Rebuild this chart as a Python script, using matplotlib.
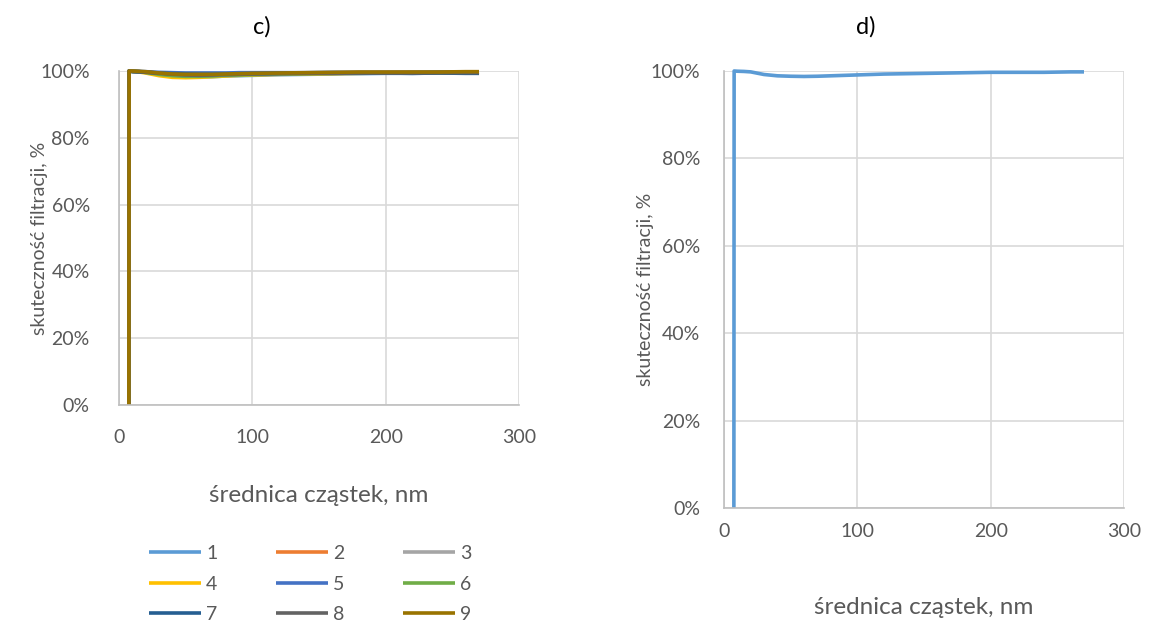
import matplotlib
matplotlib.use("Agg")
import matplotlib.pyplot as plt
from matplotlib.ticker import PercentFormatter

plt.rcParams['font.family'] = ['Lato', 'DejaVu Sans']

# particle diameter, nm
diam = [7.4, 7.6, 10, 15, 20, 25, 30, 40, 50, 60, 70, 80, 90, 100,
        120, 140, 160, 180, 200, 220, 240, 260, 270]

# chart c) - filtration efficiency of nine samples (fraction)
eff_c = {
    "1": [0, 1.0, 0.999, 0.998, 0.996, 0.993, 0.990, 0.986, 0.983, 0.982, 0.983, 0.985, 0.986,
          0.987, 0.989, 0.990, 0.991, 0.992, 0.993, 0.993, 0.994, 0.994, 0.995],
    "2": [0, 1.0, 0.999, 0.998, 0.997, 0.995, 0.993, 0.990, 0.988, 0.987, 0.988, 0.989, 0.990,
          0.991, 0.992, 0.993, 0.994, 0.995, 0.995, 0.996, 0.996, 0.996, 0.997],
    "3": [0, 1.0, 0.999, 0.998, 0.996, 0.994, 0.992, 0.988, 0.986, 0.985, 0.986, 0.987, 0.988,
          0.989, 0.991, 0.992, 0.993, 0.994, 0.995, 0.995, 0.995, 0.996, 0.996],
    "4": [0, 1.0, 0.999, 0.997, 0.994, 0.990, 0.986, 0.981, 0.980, 0.981, 0.983, 0.985, 0.987,
          0.988, 0.990, 0.991, 0.992, 0.993, 0.994, 0.994, 0.995, 0.995, 0.996],
    "5": [0, 1.0, 1.0, 0.999, 0.998, 0.997, 0.996, 0.995, 0.994, 0.994, 0.994, 0.994, 0.995,
          0.995, 0.995, 0.995, 0.996, 0.996, 0.996, 0.996, 0.997, 0.996, 0.996],
    "6": [0, 1.0, 0.999, 0.998, 0.996, 0.993, 0.990, 0.986, 0.984, 0.984, 0.985, 0.987, 0.988,
          0.989, 0.991, 0.992, 0.993, 0.994, 0.994, 0.995, 0.995, 0.995, 0.996],
    "7": [0, 1.0, 0.998, 0.997, 0.996, 0.995, 0.994, 0.992, 0.991, 0.990, 0.990, 0.991, 0.991,
          0.992, 0.993, 0.993, 0.994, 0.994, 0.994, 0.993, 0.994, 0.993, 0.993],
    "8": [0, 1.0, 0.999, 0.998, 0.997, 0.995, 0.993, 0.990, 0.988, 0.987, 0.988, 0.989, 0.990,
          0.991, 0.992, 0.993, 0.993, 0.994, 0.994, 0.994, 0.995, 0.995, 0.995],
    "9": [0, 1.0, 1.0, 0.999, 0.998, 0.996, 0.994, 0.991, 0.990, 0.990, 0.990, 0.991, 0.992,
          0.993, 0.994, 0.995, 0.996, 0.997, 0.997, 0.997, 0.997, 0.998, 0.998],
}
colors_c = ["#5B9BD5", "#ED7D31", "#A5A5A5", "#FFC000", "#4472C4",
            "#70AD47", "#255E91", "#636363", "#997300"]

# chart d) - single sample
eff_d = [0, 1.0, 0.9995, 0.999, 0.998, 0.995, 0.992, 0.989, 0.988, 0.9875, 0.988, 0.989, 0.990,
         0.991, 0.993, 0.994, 0.995, 0.996, 0.997, 0.997, 0.997, 0.998, 0.998]

TEXT = "#595959"
GRID = "#D9D9D9"
FS = 14
FS_X = 17.5


def style_axes(ax, xpad, ypad, xlab_y):
    ax.set_xlim(0, 300)
    ax.set_ylim(0, 1)
    ax.set_xticks([0, 100, 200, 300])
    ax.set_yticks([0, 0.2, 0.4, 0.6, 0.8, 1.0])
    ax.yaxis.set_major_formatter(PercentFormatter(1.0, decimals=0))
    ax.grid(True, color=GRID, linewidth=1.2)
    ax.set_axisbelow(True)
    for side in ("top", "right"):
        ax.spines[side].set_visible(False)
    for side in ("left", "bottom"):
        ax.spines[side].set_color("#BFBFBF")
        ax.spines[side].set_linewidth(1.2)
    ax.tick_params(length=0, colors=TEXT, labelsize=FS)
    ax.tick_params(axis="x", pad=xpad)
    ax.tick_params(axis="y", pad=ypad)
    ax.set_xlabel("średnica cząstek, nm", color=TEXT, fontsize=FS_X, va="center")
    ax.set_ylabel("skuteczność filtracji, %", color=TEXT, fontsize=FS, va="center")
    ax.xaxis.set_label_coords(0.5, xlab_y)
    ax.yaxis.set_label_coords(-0.1975, 0.5)


W, H = 1151, 622
fig = plt.figure(figsize=(W / 100, H / 100), dpi=100)

ax_c = fig.add_axes([119 / W, 1 - 405 / H, 400 / W, 334 / H])
lines = []
for (name, vals), col in zip(eff_c.items(), colors_c):
    ln, = ax_c.plot(diam, vals, color=col, linewidth=2.6, label=name,
                    solid_capstyle="butt", clip_on=False)
    lines.append(ln)
style_axes(ax_c, xpad=17, ypad=21, xlab_y=(405 - 496) / 334)

ax_d = fig.add_axes([724 / W, 1 - 508 / H, 400 / W, 437 / H])
ax_d.plot(diam, eff_d, color="#5B9BD5", linewidth=2.6, solid_capstyle="butt", clip_on=False)
style_axes(ax_d, xpad=11, ypad=17, xlab_y=(508 - 607) / 437)

fig.text(262 / W, 1 - 27 / H, "c)", ha="center", va="center", fontsize=17, color="black")
fig.text(866 / W, 1 - 27 / H, "d)", ha="center", va="center", fontsize=17, color="black")

# legend filled row by row like the original
order = [0, 3, 6, 1, 4, 7, 2, 5, 8]
leg = fig.legend([lines[i] for i in order], [lines[i].get_label() for i in order],
                 loc="center", bbox_to_anchor=(310 / W, 1 - 584 / H), ncol=3,
                 frameon=False, fontsize=FS, handlelength=2.7, handletextpad=0.25,
                 columnspacing=3.0, labelspacing=0.68, borderpad=0)
for t in leg.get_texts():
    t.set_color(TEXT)

fig.savefig("out.png", dpi=100)
